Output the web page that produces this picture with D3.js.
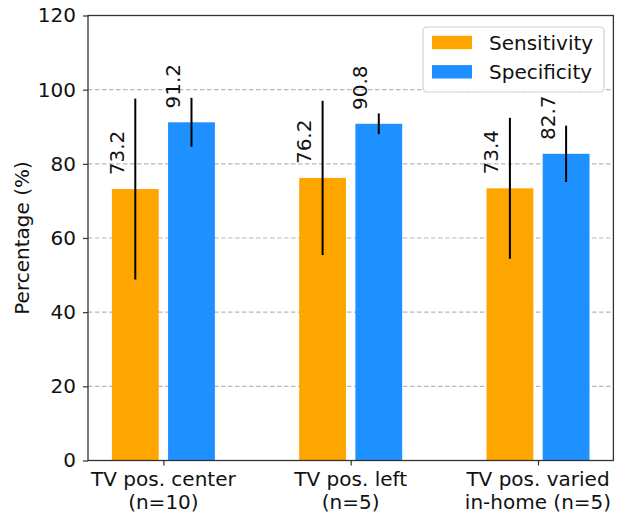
<!DOCTYPE html>
<html>
<head>
<meta charset="utf-8">
<script src="https://cdn.jsdelivr.net/npm/d3@7"></script>
<style>
  html, body { margin: 0; padding: 0; background: #fff; }
  svg { display: block; font-family: "DejaVu Sans", sans-serif; }
</style>
</head>
<body>
<svg id="chart" width="620" height="516"></svg>
<script>
// ---- data ----
const categories = [["TV pos. center", "(n=10)"], ["TV pos. left", "(n=5)"], ["TV pos. varied", "in-home (n=5)"]];
const seriesNames = ["Sensitivity", "Specificity"];
const sensitivity = [73.2, 76.2, 73.4];
const specificity = [91.2, 90.8, 82.7];
const sensitivityErr = [24.4, 20.8, 19.0];
const specificityErr = [6.6, 2.8, 7.6];
const yTicks = [0, 20, 40, 60, 80, 100, 120];
const colors = ["#FFA500", "#1E90FF"];

// ---- layout ----
const svg = d3.select("#chart");
const pLeft = 88, pRight = 613.4, pTop = 15.5, pBottom = 460.5;
const barW = 0.25, off = 0.15;
const x = d3.scaleLinear().domain([-0.4025, 2.4025]).range([pLeft, pRight]);
const y = d3.scaleLinear().domain([0, 120]).range([pBottom, pTop]);

// gridlines
svg.append("g").selectAll("line").data(yTicks.filter(t => t > 0 && t < 120)).join("line")
  .attr("x1", pLeft).attr("x2", pRight)
  .attr("y1", d => y(d)).attr("y2", d => y(d))
  .attr("stroke", "#b8b8b8").attr("stroke-width", 1.2)
  .attr("stroke-dasharray", "4.5,2.5");

const series = [
  { name: seriesNames[0], vals: sensitivity, err: sensitivityErr, dx: -off, color: colors[0] },
  { name: seriesNames[1], vals: specificity, err: specificityErr, dx: off, color: colors[1] }
];

series.forEach(s => {
  const g = svg.append("g");
  const data = s.vals.map((v, i) => ({ i, v, e: s.err[i] }));
  g.selectAll("rect").data(data).join("rect")
    .attr("x", d => x(d.i + s.dx - barW / 2))
    .attr("width", d => x(d.i + s.dx + barW / 2) - x(d.i + s.dx - barW / 2))
    .attr("y", d => y(d.v))
    .attr("height", d => y(0) - y(d.v))
    .attr("fill", s.color);
  g.selectAll("line.err").data(data).join("line")
    .attr("class", "err")
    .attr("x1", d => x(d.i + s.dx)).attr("x2", d => x(d.i + s.dx))
    .attr("y1", d => y(d.v - d.e)).attr("y2", d => y(d.v + d.e))
    .attr("stroke", "#000").attr("stroke-width", 2);
  g.selectAll("text").data(data).join("text")
    .attr("transform", d => `translate(${x(d.i + s.dx - 0.1)},${y(d.v + 4) + 1}) rotate(-90)`)
    .attr("dy", "0.36em")
    .attr("text-anchor", "start")
    .attr("font-size", 20)
    .attr("fill", "#111")
    .text(d => d.v.toFixed(1));
});

// axes
const yAxis = d3.axisLeft(y).tickValues(yTicks).tickSize(5).tickPadding(7);
const yg = svg.append("g").attr("transform", `translate(${pLeft},0)`).call(yAxis);
yg.select(".domain").remove();
yg.selectAll("line").attr("stroke", "#333").attr("stroke-width", 1.2);
yg.selectAll("text").attr("font-size", 20).attr("fill", "#111").attr("font-family", "DejaVu Sans");

const xAxis = d3.axisBottom(x).tickValues([0, 1, 2]).tickSize(5).tickFormat("");
const xg = svg.append("g").attr("transform", `translate(0,${pBottom})`).call(xAxis);
xg.select(".domain").remove();
xg.selectAll("line").attr("stroke", "#333").attr("stroke-width", 1.2);

const xl = svg.append("g").selectAll("text").data(categories).join("text")
  .attr("x", (d, i) => x(i))
  .attr("text-anchor", "middle")
  .attr("font-size", 20).attr("fill", "#111");
xl.append("tspan").attr("x", (d, i) => x(i)).attr("y", 486).text(d => d[0]);
xl.append("tspan").attr("x", (d, i) => x(i)).attr("y", 509).text(d => d[1]);

// frame
svg.append("rect")
  .attr("x", pLeft).attr("y", pTop)
  .attr("width", pRight - pLeft).attr("height", pBottom - pTop)
  .attr("fill", "none").attr("stroke", "#333").attr("stroke-width", 1.3);

// y label
svg.append("text")
  .attr("transform", `translate(22,${(pTop + pBottom) / 2}) rotate(-90)`)
  .attr("dy", "0.36em")
  .attr("text-anchor", "middle")
  .attr("font-size", 20).attr("fill", "#111")
  .text("Percentage (%)");

// legend
const lg = svg.append("g");
lg.append("rect").attr("x", 423).attr("y", 27).attr("width", 181).attr("height", 65)
  .attr("rx", 4).attr("fill", "#fff").attr("fill-opacity", 0.85)
  .attr("stroke", "#d0d0d0").attr("stroke-width", 1.2);
series.forEach((s, i) => {
  const cy = 42.5 + i * 29.3;
  lg.append("rect").attr("x", 432).attr("y", cy - 6.7).attr("width", 40).attr("height", 13.4).attr("fill", s.color);
  lg.append("text").attr("x", 489).attr("y", cy).attr("dy", "0.36em")
    .attr("font-size", 20).attr("fill", "#111").text(s.name);
});
</script>
</body>
</html>
